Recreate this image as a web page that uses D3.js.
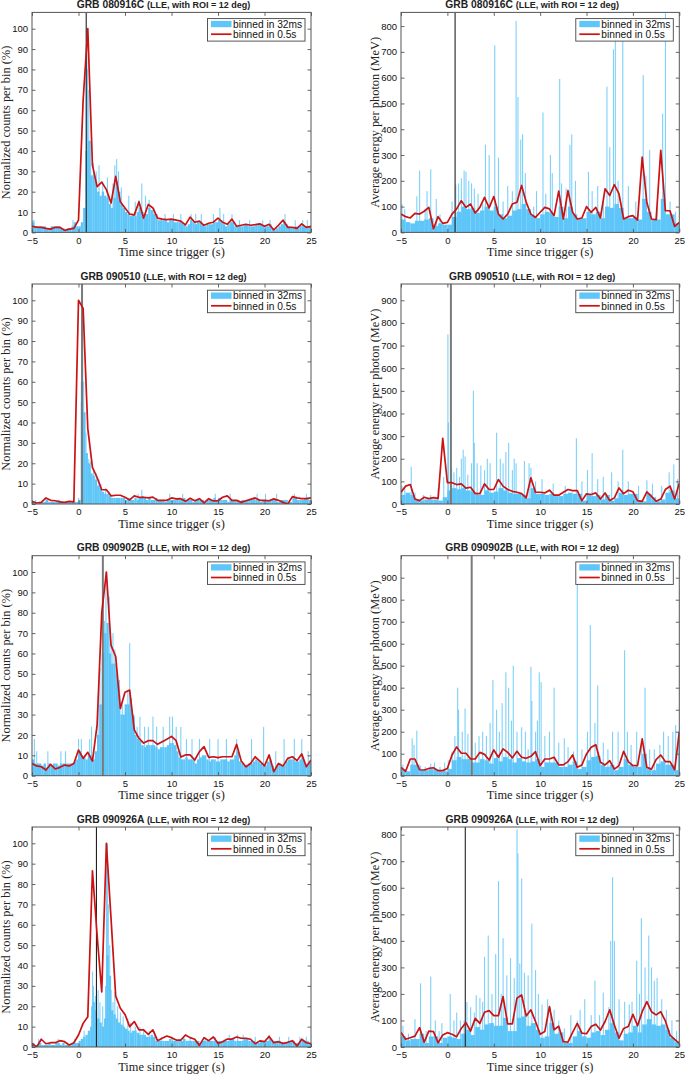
<!DOCTYPE html>
<html><head><meta charset="utf-8">
<script src="https://cdn.jsdelivr.net/npm/d3@7"></script>
<style>body{margin:0;background:#fff}svg{display:block}</style>
</head><body>
<svg id="chart" width="685" height="1074"></svg>
<script>
// ---------------- DATA ----------------
const grbNames = ["GRB 080916C", "GRB 090510", "GRB 090902B", "GRB 090926A"];
const titleSuffix = "(LLE, with ROI = 12 deg)";
const legendLabels = ["binned in 32ms", "binned in 0.5s"];
const xLabel = "Time since trigger (s)";
const countsLabel = "Normalized counts per bin (%)";
const energyLabel = "Average energy per photon (MeV)";
const xTicks = [-5, 0, 5, 10, 15, 20, 25];
const countTicks = [0, 10, 20, 30, 40, 50, 60, 70, 80, 90, 100];
const energyTicks800 = [0, 100, 200, 300, 400, 500, 600, 700, 800];
const energyTicks900 = [0, 100, 200, 300, 400, 500, 600, 700, 800, 900];
const triggerTimes = [0.83, 0.38, 2.62, 1.93];
const countMax = [108, 108, 108, 108];
const energyMax = [853, 972, 1000, 829];

// 0.5 s binned (red), t = -5 ... 25 step 0.5
const countsRed080916C = [3,2.6,2.5,2,1.6,2.5,2.5,1,1.6,2, 6,65,100,33,22.5,24.7,21,14.4,27.5,15, 12,9,8.6,15,7,13.7,12,7,6.5,6.3, 6.5,6,5.5,3.7,7.5,5,5.5,3.5,4.5,5, 7,5,4,6.5,3,3.5,4,3.5,3.8,4.2, 3,4,1.2,3.5,6,2.5,2.5,2,4.2,2.5, 3];
const energyRed080916C = [71,61,56,74,71,82,97,14,61,35, 39,71,91,123,97,110,75,97,136,95, 139,71,52,71,110,117,182,117,71,58, 78,97,91,65,160,52,162,78,52,56, 100,78,97,56,169,143,185,149,52,61, 65,48,292,117,52,49,318,84,84,23, 39];
const countsRed090510 = [1.3,0.5,0.8,3,1.8,1.6,1,0.8,1.3,1, 100,96,37,18,13,7,7,4,4.3,4.3, 3.3,2,4,3.3,3.3,3,3.4,1.8,1.8,1.8, 3,2.5,2.6,1.3,2.8,1.6,2.6,0.5,2.6,1.5, 1.6,3.3,4,1.8,1.8,0.8,1.6,2.3,3,1.8, 1.8,1.6,2.5,1.8,0.8,0,3.6,3,2.6,2.6, 3];
const energyRed090510 = [52,79,86,22,15,30,24,28,25,290, 94,94,86,89,70,74,46,46,89,64, 64,108,79,64,56,52,46,27,116,52, 52,49,61,39,39,52,64,59,59,15, 45,42,49,22,49,15,27,71,46,61, 54,15,12,54,34,12,22,64,79,22, 92];
const countsRed090902B = [6,4.8,4.4,2.8,5.6,3.3,4.1,5.2,4.8,6, 12.6,8.5,11.5,7.2,25,80,100,64,58.5,33, 41,42,22.5,18.4,16,17.2,17.2,15.4,16.7,17.9, 19.3,17.2,9.2,10.2,10.2,7.7,11.8,14.3,9,9.3, 8.9,9.3,9.3,9.3,15.4,7.2,4.4,6,9.3,7.2, 4.8,10.2,2,6,4.8,8.5,9.3,7.4,10.7,4.4, 7.7];
const energyRed090902B = [38,20,76,76,27,26,33,36,23,23, 33,94,131,102,102,76,76,106,97,71, 117,84,122,106,81,111,84,79,88,109, 46,76,76,84,49,49,64,94,38,49, 99,129,141,61,49,68,30,46,111,64, 46,46,167,38,30,73,94,64,64,27, 198];
const countsRed090926A = [1.8,0,3.8,1.6,2.1,2.1,3.1,2.6,1,2.1, 5.9,11.6,14.9,86.5,55,27,100,63,25,19, 16,10,12.5,8.4,8.4,6.2,8.4,3.1,4.3,5.4, 4.6,3.4,3.4,5.9,4.6,3.8,0.8,4.6,3.1,4.9, 1.8,2.6,3.9,3.9,4.9,4.3,4.3,3.8,1.6,3, 2.6,5.2,2.1,2.6,1.8,2.3,3.1,0.5,3.8,2.1, 1.6];
const energyRed090926A = [55,29,35,41,73,18,60,58,16,45, 54,48,39,70,92,60,108,89,131,137, 118,118,190,87,87,184,196,117,140,96, 48,58,152,65,78,20,18,55,89,52, 50,77,86,64,96,140,83,33,70,77, 123,80,133,171,133,121,133,98,45,29, 14];

// 32 ms binned (blue): envelope read at 0.25 s (counts) / 0.5 s (energy) plus individual tall bins [t, value]
const countsBlue080916C = [5,3,3,3, 3,3,2,2, 3,3,3,3, 2,2,1,2, 2,3,5,3, 3,5,12,40, 45,28,28,25, 20,18,20,18, 17,14,12,17, 25,20,14,12, 10,9,8,9, 8,10,12,10, 7,9,12,11, 9,9,6,6, 6,6,5,6, 6,5,5,5, 5,4,3,4, 6,5,4,5, 5,4,3,4, 4,4,5,5, 6,5,4,3, 4,5,5,3, 3,3,3,4, 4,3,3,3, 4,4,4,3, 3,3,4,2, 1,2,3,4, 5,4,3,2, 2,3,2,3, 4,3,3,3];
const countsSpikes080916C = [[-4.9,6],[-4.8,6],[-0.6,6],[0.85,100],[0.9,95],[0.95,80],[1.1,70],[1.3,45],[1.6,34],[1.9,30],[2.2,33],[2.6,25],[3.1,27],[3.7,24],[3.9,33],[4.1,36],[4.3,30],[4.6,22],[5.4,18],[6.1,15],[6.5,16],[6.8,24],[7.2,18],[7.6,16],[8.1,12],[9.3,9],[10.2,9],[11.0,9],[12.1,9],[12.6,9],[13.2,9],[14.5,9],[15.2,12],[15.6,9],[16.5,9],[17.3,6],[18.4,6],[19.8,6],[20.6,6],[22.2,9],[23.3,6],[24.1,6],[24.6,6]];
const energyBlue080916C = [50,40,35,45,45,50,55,25,35,30, 30,60,80,100,90,95,75,85,100,85, 100,70,55,65,85,90,110,90,65,55, 70,80,75,60,100,55,100,70,55,55, 80,70,80,55,100,95,110,95,55,55, 60,50,130,80,50,50,130,70,70,35];
const energySpikes080916C = [[-4.9,110],[-4.6,90],[-3.3,140],[-3.0,240],[-2.4,90],[-2.2,160],[-1.8,245],[-1.2,130],[-0.8,70],[0.5,120],[0.9,185],[1.2,190],[1.5,210],[1.8,240],[2.0,235],[2.3,200],[2.6,190],[2.9,170],[3.3,150],[3.8,110],[4.1,340],[4.5,300],[5.1,725],[5.5,290],[6.0,120],[6.5,180],[7.0,160],[7.4,820],[7.6,525],[7.9,360],[8.1,380],[8.4,230],[9.3,100],[9.6,160],[10.3,465],[10.6,150],[11.1,300],[11.3,230],[12.1,595],[12.3,190],[12.8,170],[13.2,340],[13.4,380],[13.8,200],[15.2,235],[15.6,160],[16.2,180],[16.8,120],[17.2,565],[17.5,330],[17.9,710],[18.1,750],[18.4,200],[18.9,750],[19.5,180],[20.3,120],[21.1,610],[21.4,220],[21.8,320],[22.6,100],[23.2,460],[23.5,850],[24.0,120],[24.6,80]];

const countsBlue090510 = [1,1,0,1, 1,1,2,1, 1,1,1,2, 1,1,1,1, 1,1,1,1, 2,50,45,25, 20,15,14,12, 9,8,6,5, 5,4,3,3, 3,3,3,3, 2,3,2,2, 3,2,3,4, 3,2,3,2, 2,3,2,2, 2,1,2,2, 2,2,3,2, 2,3,2,2, 2,1,2,2, 2,2,1,2, 2,2,3,2, 3,2,2,2, 1,2,2,2, 2,1,2,2, 2,2,2,3, 2,2,1,2, 2,2,2,2, 2,1,1,2, 2,2,1,1, 3,3,2,2, 2,3,3,2];
const countsSpikes090510 = [[-4.6,2],[-3.5,3],[-2.2,2],[0.0,3],[0.3,60],[0.38,95],[0.45,95],[0.55,60],[0.65,45],[0.8,35],[0.9,25],[1.1,22],[1.3,21],[1.6,17],[1.9,15],[2.2,12],[2.4,10],[2.9,8],[3.3,6],[6.4,5],[6.8,7],[9.8,5],[11.2,5],[14.7,5],[16.3,5],[19.2,5],[20.1,5],[21.3,5],[23.2,5],[24.5,5]];
const energyBlue090510 = [40,50,40,20,15,20,20,20,15,30, 60,70,65,70,60,55,40,40,60,50, 55,70,60,50,45,45,40,25,70,45, 45,40,45,35,35,45,50,45,45,15, 40,35,40,20,40,15,25,50,40,45, 45,15,12,45,30,12,20,50,60,25];
const energySpikes090510 = [[-4.9,80],[-4.6,70],[-3.9,165],[-3.5,50],[-2.6,40],[-1.8,40],[-1.0,70],[-0.4,120],[0.05,750],[0.1,360],[0.45,160],[0.7,140],[1.0,160],[1.3,120],[1.5,200],[1.7,240],[1.9,210],[2.2,130],[2.6,180],[2.8,500],[2.9,270],[3.2,180],[3.6,170],[4.0,150],[4.3,200],[4.6,180],[5.3,315],[5.7,200],[6.0,180],[6.3,230],[6.6,270],[7.0,150],[7.2,200],[7.4,180],[8.3,190],[8.8,180],[9.0,160],[9.5,100],[10.2,110],[11.4,90],[12.7,80],[13.9,290],[14.5,100],[15.1,150],[15.6,225],[16.2,110],[16.8,120],[17.7,140],[18.4,100],[18.9,240],[19.5,100],[20.6,80],[21.5,105],[22.1,90],[23.1,80],[23.9,140],[24.4,175],[24.8,110]];

const countsBlue090902B = [8,6,6,6, 5,6,4,6, 5,6,6,5, 6,6,6,6, 6,6,7,8, 12,10,9,8, 10,10,8,12, 20,35,60,70, 75,60,55,55, 50,40,30,30, 35,35,38,30, 20,18,17,15, 14,15,15,15, 15,14,13,14, 14,14,15,16, 16,15,12,9, 8,8,9,8, 8,8,6,8, 9,10,10,8, 7,8,8,7, 7,8,8,8, 7,8,8,10, 12,7,6,5, 5,6,6,7, 8,7,6,5, 5,7,8,5, 3,5,6,5, 5,7,8,8, 8,7,7,8, 9,6,5,7];
const countsSpikes090902B = [[-4.75,18],[-4.5,12],[-3.3,12],[-1.9,12],[-1.4,12],[0.0,18],[0.3,18],[1.2,18],[1.4,24],[2.1,35],[2.3,53],[2.6,70],[2.8,76],[2.95,100],[3.1,65],[3.3,88],[3.5,65],[3.7,70],[3.9,62],[4.1,52],[4.4,47],[4.7,35],[5.0,35],[5.3,41],[5.5,65],[5.7,35],[6.0,29],[6.3,24],[6.6,29],[7.1,24],[7.5,24],[8.0,29],[8.4,24],[9.1,24],[9.8,29],[10.1,29],[10.5,24],[11.0,24],[11.6,18],[12.2,18],[13.0,18],[14.1,18],[15.0,18],[15.9,18],[17.0,18],[18.6,18],[19.9,24],[21.2,12],[22.1,18],[23.2,18],[24.0,18],[24.7,12]];
const energyBlue090902B = [30,20,50,50,25,25,30,30,20,20, 30,70,85,75,75,60,60,75,70,55, 80,65,85,75,60,80,65,60,65,75, 40,60,60,60,40,40,50,65,30,40, 70,85,90,50,40,50,25,40,75,50, 40,40,100,30,25,55,65,50,50,25];
const energySpikes090902B = [[-4.8,50],[-3.8,170],[-3.6,140],[-3.3,205],[-2.9,45],[-2.4,40],[-1.8,55],[-1.4,60],[-0.8,40],[-0.3,60],[0.1,70],[0.5,110],[0.8,180],[1.1,400],[1.2,300],[1.6,200],[1.9,305],[2.2,190],[2.6,250],[3.0,150],[3.4,180],[3.8,200],[4.2,180],[4.6,240],[4.9,435],[5.3,300],[5.6,200],[5.9,330],[6.3,470],[6.6,400],[6.9,250],[7.1,500],[7.5,200],[8.0,220],[8.4,200],[8.7,120],[9.0,495],[9.1,340],[9.5,200],[9.7,250],[9.9,470],[10.1,425],[10.5,180],[11.0,200],[11.5,400],[12.0,150],[12.6,170],[13.0,130],[13.6,110],[14.0,870],[14.5,120],[15.1,200],[15.4,685],[15.9,240],[16.2,410],[16.8,150],[17.3,120],[17.8,200],[18.4,200],[19.1,570],[19.4,200],[19.8,140],[20.4,200],[20.9,140],[21.3,400],[21.8,120],[22.3,120],[22.9,140],[23.3,200],[23.8,180],[24.3,200],[24.6,230],[24.9,200]];

const countsBlue090926A = [2,1,1,2, 1,1,1,2, 1,1,2,2, 1,2,1,1, 1,2,2,2, 3,4,5,6, 8,10,22,18, 14,12,10,14, 45,35,18,16, 14,12,11,10, 9,8,7,8, 8,7,6,6, 6,5,5,6, 5,3,3,3, 3,3,3,4, 3,3,3,3, 3,4,3,3, 3,3,3,3, 2,3,3,3, 3,3,3,3, 3,3,3,3, 3,4,4,3, 3,3,3,4, 4,3,3,3, 2,2,3,3, 3,3,4,3, 3,3,3,2, 2,2,3,3, 3,2,2,3, 3,3,3,2];
const countsSpikes090926A = [[-4.3,4],[-2.2,4],[-0.4,4],[0.6,8],[1.4,20],[1.5,37],[1.6,30],[1.8,25],[2.1,28],[2.3,22],[2.6,20],[2.9,30],[3.0,100],[3.1,100],[3.2,70],[3.35,50],[3.5,28],[3.7,22],[3.9,27],[4.2,20],[4.5,17],[4.8,15],[5.3,14],[5.6,12],[6.1,10],[6.6,10],[7.0,9],[7.6,8],[8.2,6],[8.9,5],[10.1,5],[11.3,5],[12.0,5],[13.6,5],[14.7,5],[16.2,6],[17.1,6],[17.7,6],[19.0,5],[20.5,6],[21.6,5],[22.6,5],[23.8,5],[24.5,5]];
const energyBlue090926A = [40,25,30,30,50,15,40,40,15,35, 40,35,30,50,65,45,75,65,85,90, 80,80,110,60,60,110,115,80,90,65, 35,40,90,50,55,15,15,40,60,40, 35,55,60,45,65,90,55,25,50,55, 80,55,85,105,85,80,85,65,35,20];
const energySpikes090926A = [[-4.8,80],[-4.2,50],[-3.5,105],[-2.9,240],[-2.3,60],[-1.8,265],[-1.3,100],[-0.9,60],[-0.6,90],[0.3,200],[0.7,100],[1.0,130],[1.4,100],[1.8,100],[2.1,170],[2.5,150],[2.9,130],[3.1,195],[3.5,185],[3.8,170],[4.0,340],[4.4,420],[4.8,200],[5.2,350],[5.5,625],[5.8,200],[6.0,410],[6.4,270],[6.8,335],[7.2,260],[7.5,820],[7.6,730],[7.8,315],[8.0,635],[8.3,280],[8.7,270],[9.1,465],[9.5,290],[9.8,200],[10.2,160],[10.8,180],[11.1,150],[11.5,140],[12.0,100],[12.6,70],[13.3,120],[14.0,100],[14.3,140],[14.8,180],[15.5,120],[15.9,250],[16.4,120],[16.8,205],[17.4,150],[17.6,400],[17.8,640],[18.0,400],[18.5,180],[19.1,170],[19.6,160],[19.9,170],[20.4,325],[20.7,200],[20.9,485],[21.3,300],[21.7,420],[22.0,300],[22.3,250],[22.6,260],[23.1,180],[23.6,140],[24.2,100],[24.7,60]];

// ---------------- LAYOUT ----------------
const svg = d3.select("#chart");
const colX = [[32, 311], [401, 679.3]];
const rowTop = [12.4, 284, 555.7, 827];
const plotH = 220;
const BLUE = "#5ec6f8", RED = "#cc1212", FRAME = "#555";
const SANS = "'Liberation Sans', Arial, Helvetica, sans-serif";
const SERIF = "'Liberation Serif', 'Times New Roman', serif";

const panels = [];
const countBlues = [countsBlue080916C, countsBlue090510, countsBlue090902B, countsBlue090926A];
const countSpk = [countsSpikes080916C, countsSpikes090510, countsSpikes090902B, countsSpikes090926A];
const countReds = [countsRed080916C, countsRed090510, countsRed090902B, countsRed090926A];
const energyBlues = [energyBlue080916C, energyBlue090510, energyBlue090902B, energyBlue090926A];
const energySpk = [energySpikes080916C, energySpikes090510, energySpikes090902B, energySpikes090926A];
const energyReds = [energyRed080916C, energyRed090510, energyRed090902B, energyRed090926A];
const energyTickSets = [energyTicks800, energyTicks900, energyTicks900, energyTicks800];

for (let r = 0; r < 4; r++) {
  panels.push({row: r, col: 0, yMax: countMax[r], yTicks: countTicks, base: countBlues[r], baseStep: 0.25,
    spikes: countSpk[r], red: countReds[r], ylabel: countsLabel});
  panels.push({row: r, col: 1, yMax: energyMax[r], yTicks: energyTickSets[r], base: energyBlues[r], baseStep: 0.5,
    spikes: energySpk[r], red: energyReds[r], ylabel: energyLabel});
}

panels.forEach((p, idx) => {
  const [x0, x1] = colX[p.col];
  const top = rowTop[p.row], bot = top + plotH;
  const x = d3.scaleLinear().domain([-5, 25]).range([x0, x1]);
  const y = d3.scaleLinear().domain([0, p.yMax]).range([bot, top]);
  const g = svg.append("g");
  const cid = "clip" + idx;
  g.append("clipPath").attr("id", cid).append("rect")
    .attr("x", x0).attr("y", top).attr("width", x1 - x0).attr("height", plotH);
  const pg = g.append("g").attr("clip-path", `url(#${cid})`);

  // blue envelope bars
  pg.append("g").selectAll("rect").data(p.base).join("rect")
    .attr("x", (d, i) => x(-5 + i * p.baseStep))
    .attr("width", (d, i) => x(-5 + (i + 1) * p.baseStep) - x(-5 + i * p.baseStep) + 0.05)
    .attr("y", d => y(d)).attr("height", d => y(0) - y(d))
    .attr("fill", BLUE);
  // individual 32 ms bins
  pg.append("g").selectAll("rect").data(p.spikes).join("rect")
    .attr("x", d => x(d[0]) - 0.5)
    .attr("width", Math.max(1.1, x(0.032) - x(0)))
    .attr("y", d => y(d[1])).attr("height", d => y(0) - y(d[1]))
    .attr("fill", BLUE).attr("opacity", 0.8);

  // trigger line
  const gray = p.row === 1 || p.row === 2;
  pg.append("line")
    .attr("x1", x(triggerTimes[p.row])).attr("x2", x(triggerTimes[p.row]))
    .attr("y1", top).attr("y2", bot)
    .attr("stroke", gray ? "#7a7a7a" : "#222").attr("stroke-width", gray ? 2 : 1.1);

  // red 0.5 s curve
  const line = d3.line().x((d, i) => x(-5 + i * 0.5)).y(d => y(d));
  pg.append("path").datum(p.red).attr("d", line)
    .attr("fill", "none").attr("stroke", RED).attr("stroke-width", 1.7).attr("stroke-linejoin", "round");

  // axes (ticks inward, mirrored)
  const tickLen = -3.5;
  const ax = g.append("g").attr("transform", `translate(0,${bot})`)
    .call(d3.axisBottom(x).tickValues(xTicks).tickSizeInner(tickLen).tickSizeOuter(0).tickPadding(4.5).tickFormat(d3.format("d")));
  g.append("g").attr("transform", `translate(0,${top})`)
    .call(d3.axisTop(x).tickValues(xTicks).tickSizeInner(tickLen).tickSizeOuter(0).tickFormat(""));
  const ay = g.append("g").attr("transform", `translate(${x0},0)`)
    .call(d3.axisLeft(y).tickValues(p.yTicks).tickSizeInner(tickLen).tickSizeOuter(0).tickPadding(4).tickFormat(d3.format("d")));
  g.append("g").attr("transform", `translate(${x1},0)`)
    .call(d3.axisRight(y).tickValues(p.yTicks).tickSizeInner(tickLen).tickSizeOuter(0).tickFormat(""));
  g.selectAll(".domain").remove();
  g.selectAll(".tick line").attr("stroke", FRAME).attr("stroke-width", 0.9);
  g.selectAll(".tick text").attr("font-family", SANS).attr("font-size", 9.5).attr("fill", "#111");

  // frame
  g.append("rect").attr("x", x0).attr("y", top).attr("width", x1 - x0).attr("height", plotH)
    .attr("fill", "none").attr("stroke", FRAME).attr("stroke-width", 1);

  // title
  const t = g.append("text").attr("x", (x0 + x1) / 2 - 8).attr("y", top - 4.5)
    .attr("text-anchor", "middle").attr("font-family", SANS).attr("font-weight", "bold").attr("fill", "#222");
  t.append("tspan").attr("font-size", 10.3).text(grbNames[p.row] + " ");
  t.append("tspan").attr("font-size", 9).text(titleSuffix);

  // x label
  g.append("text").attr("x", (x0 + x1) / 2).attr("y", bot + 23.5).attr("text-anchor", "middle")
    .attr("font-family", SERIF).attr("font-size", 12.4).attr("fill", "#222").text(xLabel);
  // y label
  const ylx = p.col === 0 ? 6 : 374.5;
  g.append("text").attr("transform", `translate(${ylx},${(top + bot) / 2}) rotate(-90)`)
    .attr("text-anchor", "middle").attr("dominant-baseline", "central")
    .attr("font-family", SERIF).attr("font-size", 12.4).attr("fill", "#222").text(p.ylabel);

  // legend
  const lw = 97.5, lh = 22.5;
  const lx = x1 - 6 - lw, ly = top + 6.2;
  const lg = g.append("g").attr("transform", `translate(${lx},${ly})`);
  lg.append("rect").attr("width", lw).attr("height", lh).attr("fill", "#fff").attr("stroke", "#444").attr("stroke-width", 0.9);
  lg.append("rect").attr("x", 3.5).attr("y", 2.3).attr("width", 20.5).attr("height", 6.3).attr("fill", BLUE);
  lg.append("line").attr("x1", 3.5).attr("x2", 24).attr("y1", 15.6).attr("y2", 15.6).attr("stroke", RED).attr("stroke-width", 1.7);
  lg.selectAll("text.l").data(legendLabels).join("text")
    .attr("x", 25.5).attr("y", (d, i) => 9 + i * 10.4)
    .attr("font-family", SANS).attr("font-size", 10.2).attr("fill", "#111").text(d => d);
});
</script>
</body></html>
